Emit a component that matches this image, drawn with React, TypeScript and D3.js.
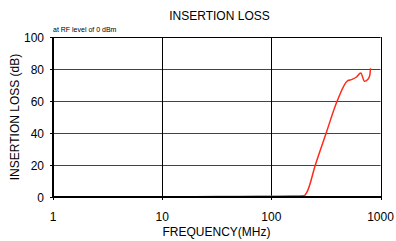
import React, { useEffect, useRef } from 'react'
import * as d3 from 'd3'

const freqs = [10, 20, 50, 100, 150, 199, 213, 253, 318, 401, 501, 550, 602, 660, 713, 764, 798, 809]
const loss = [0.1, 0.2, 0.3, 0.5, 0.6, 0.8, 3.3, 20, 40, 60, 72.7, 73.5, 75, 77.5, 72.3, 73.4, 76, 80.5]
const yTicks = [0, 20, 40, 60, 80, 100]
const xTicks = [1, 10, 100, 1000]

const App = () => {
  const svgRef = useRef<SVGSVGElement>(null)
  useEffect(() => {
    const svg = d3.select(svgRef.current)
    svg.selectAll('*').remove()
    const width = 396
    const height = 241
    const margin = { top: 37, right: 16, bottom: 44, left: 53 }
    const font = 'Arial, "Liberation Sans", sans-serif'

    const x = d3.scaleLog().domain([1, 1000]).range([margin.left, width - margin.right + 0.5])
    const y = d3.scaleLinear().domain([0, 100]).range([height - margin.bottom, margin.top])

    // horizontal grid
    svg
      .append('g')
      .selectAll('line')
      .data(yTicks.slice(1))
      .enter()
      .append('line')
      .attr('x1', margin.left)
      .attr('x2', x(1000))
      .attr('y1', (d) => y(d) + 0.5)
      .attr('y2', (d) => y(d) + 0.5)
      .attr('stroke', (d) => (d === 100 ? '#000' : '#444'))
      .attr('stroke-width', 1)

    // vertical grid
    svg
      .append('g')
      .selectAll('line')
      .data(xTicks.slice(1))
      .enter()
      .append('line')
      .attr('x1', (d) => Math.round(x(d)) + 0.5)
      .attr('x2', (d) => Math.round(x(d)) + 0.5)
      .attr('y1', y(100))
      .attr('y2', y(0))
      .attr('stroke', '#000')
      .attr('stroke-width', 1)

    // tick marks
    svg
      .append('g')
      .selectAll('line')
      .data(yTicks)
      .enter()
      .append('line')
      .attr('x1', margin.left - 3)
      .attr('x2', margin.left)
      .attr('y1', (d) => y(d) + 0.5)
      .attr('y2', (d) => y(d) + 0.5)
      .attr('stroke', '#000')
    svg
      .append('g')
      .selectAll('line')
      .data(xTicks)
      .enter()
      .append('line')
      .attr('x1', (d) => Math.round(x(d)) + 0.5)
      .attr('x2', (d) => Math.round(x(d)) + 0.5)
      .attr('y1', y(0))
      .attr('y2', y(0) + 3)
      .attr('stroke', '#000')

    // curve
    const line = d3
      .line<number>()
      .x((d, i) => x(freqs[i]))
      .y((d) => y(d))
      .curve(d3.curveMonotoneX)
    svg
      .append('path')
      .datum(loss)
      .attr('d', line)
      .attr('fill', 'none')
      .attr('stroke', '#ff2a1a')
      .attr('stroke-width', 1.5)

    // axes lines
    svg
      .append('line')
      .attr('x1', margin.left)
      .attr('x2', margin.left)
      .attr('y1', y(100))
      .attr('y2', y(0) + 1)
      .attr('stroke', '#000')
      .attr('stroke-width', 2)
    svg
      .append('line')
      .attr('x1', margin.left - 1)
      .attr('x2', x(1000) + 0.5)
      .attr('y1', y(0))
      .attr('y2', y(0))
      .attr('stroke', '#000')
      .attr('stroke-width', 2)

    // tick labels
    svg
      .append('g')
      .selectAll('text')
      .data(yTicks)
      .enter()
      .append('text')
      .attr('x', margin.left - 9)
      .attr('y', (d) => y(d) + 4.5)
      .attr('text-anchor', 'end')
      .attr('font-family', font)
      .attr('font-size', 12)
      .attr('fill', '#000')
      .text((d) => d)
    svg
      .append('g')
      .selectAll('text')
      .data(xTicks)
      .enter()
      .append('text')
      .attr('x', (d) => x(d))
      .attr('y', y(0) + 24)
      .attr('text-anchor', 'middle')
      .attr('font-family', font)
      .attr('font-size', 12)
      .attr('fill', '#000')
      .text((d) => d)

    // titles
    svg
      .append('text')
      .attr('x', 219.5)
      .attr('y', 19.5)
      .attr('text-anchor', 'middle')
      .attr('font-family', font)
      .attr('font-size', 12)
      .text('INSERTION LOSS')
    svg
      .append('text')
      .attr('x', margin.left)
      .attr('y', 32)
      .attr('font-family', font)
      .attr('font-size', 7)
      .text('at RF level of 0 dBm')
    svg
      .append('text')
      .attr('x', 216.5)
      .attr('y', 236)
      .attr('text-anchor', 'middle')
      .attr('font-family', font)
      .attr('font-size', 12)
      .text('FREQUENCY(MHz)')
    svg
      .append('text')
      .attr('transform', `translate(19, ${(y(0) + y(100)) / 2}) rotate(-90)`)
      .attr('text-anchor', 'middle')
      .attr('font-family', font)
      .attr('font-size', 12)
      .text('INSERTION LOSS (dB)')
  }, [])

  return (
    <svg
      ref={svgRef}
      width={396}
      height={241}
      style={{ position: 'absolute', left: 0, top: 0, background: '#fff' }}
    ></svg>
  )
}

export default App
